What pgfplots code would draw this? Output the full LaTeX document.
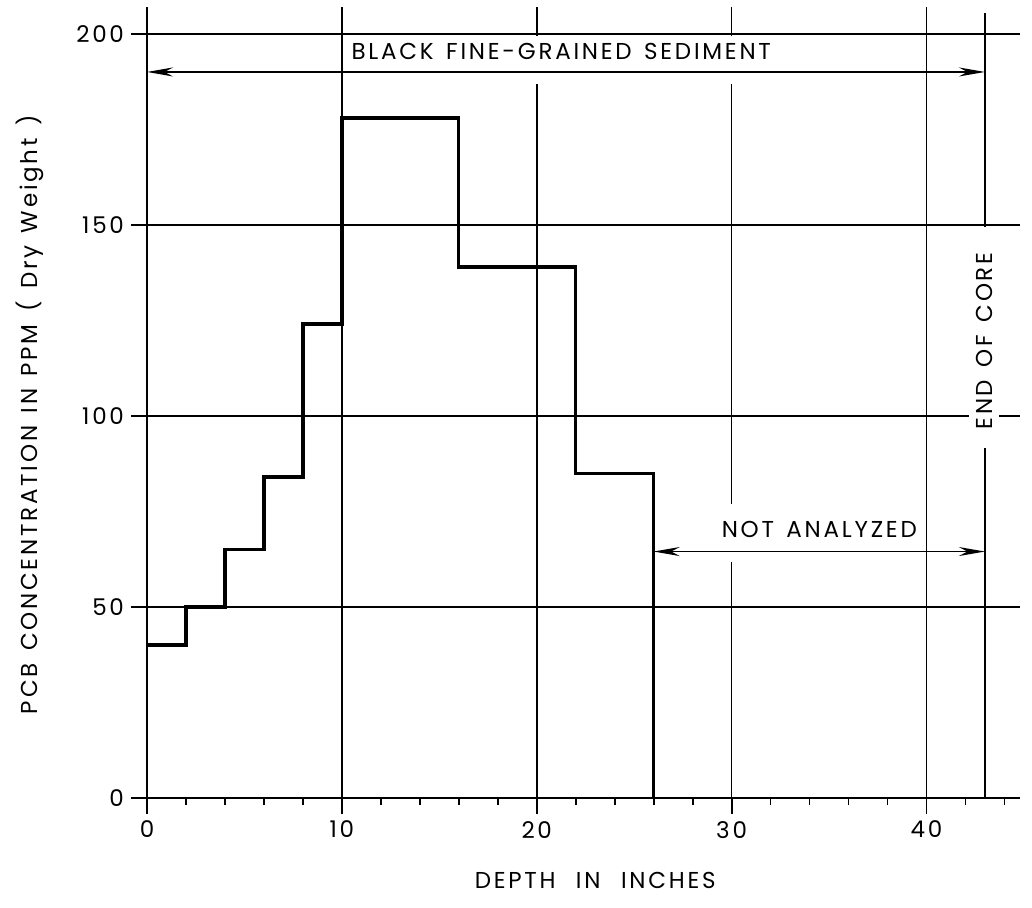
\documentclass[border=0pt]{standalone}
\usepackage{fontspec}
\setmainfont{Poppins}
\newfontfamily\lett[LetterSpace=12,WordSpace=1.4]{Poppins}
\usepackage{pgfplots}
\pgfplotsset{compat=1.18}
\usetikzlibrary{arrows.meta}
\newcommand{\lf}{\lett\fontsize{11.5}{13}\selectfont}
\begin{document}
\begin{tikzpicture}
\begin{axis}[
  at={(0,0)}, anchor=origin,
  scale only axis, width=436.5pt, height=395.5pt,
  xmin=0, xmax=44.8, ymin=0, ymax=207,
  axis lines*=left, axis line style={line width=1pt},
  xtick={0,10,20,30,40}, ytick={0,50,100,150,200},
  minor xtick={2,4,6,8,12,14,16,18,22,24,26,28,32,34,36,38,42,44},
  tick align=outside, major tick length=8pt, minor tick length=3.5pt,
  every tick/.style={line width=0.9pt, black},
  grid=major, major grid style={line width=0.8pt, black},
  /pgf/number format/assume math mode=true,
  ticklabel style={font=\lf},
  clip=false,
]
\addplot[const plot, line width=1.7pt, black] coordinates {
  (0,40) (2,50) (4,65) (6,84) (8,124) (10,178) (16,139) (22,85) (26,0)
};
\addplot[line width=0.9pt, black] coordinates {(43,0) (43,205.5)};
% gaps in the grid behind the lettering
\fill[white] (axis cs:10.4,186.8) rectangle (axis cs:32.3,199.5);
\fill[white] (axis cs:29.0,61.8) rectangle (axis cs:39.7,77);
\fill[white] (axis cs:42.2,91.6) rectangle (axis cs:43.7,149.5);
% annotations
\draw[line width=0.8pt, {Stealth[length=13pt,width=4.5pt]}-{Stealth[length=13pt,width=4.5pt]}]
  (axis cs:0,190) -- (axis cs:43,190);
\draw[line width=0.8pt, {Stealth[length=13pt,width=4.5pt]}-{Stealth[length=13pt,width=4.5pt]}]
  (axis cs:26,64.5) -- (axis cs:43,64.5);
\node[font=\lf] at (axis cs:21.26,195.3) {BLACK FINE-GRAINED SEDIMENT};
\node[font=\lf] at (axis cs:34.5,70.2) {NOT ANALYZED};
\node[font=\lf, rotate=90] at (axis cs:43,119.6) {END OF CORE};
\node[font=\lf] at (axis cs:23,-21.5) {DEPTH\hspace{4pt} IN\hspace{4pt} INCHES};
\node[font=\lf, rotate=90] at (axis cs:-6.0,100.3) {PCB CONCENTRATION IN PPM ( Dry Weight )};
\end{axis}
\pgfresetboundingbox
\path (-73.5pt,-54.5pt) rectangle (442.5pt,399pt);
\end{tikzpicture}
\end{document}
